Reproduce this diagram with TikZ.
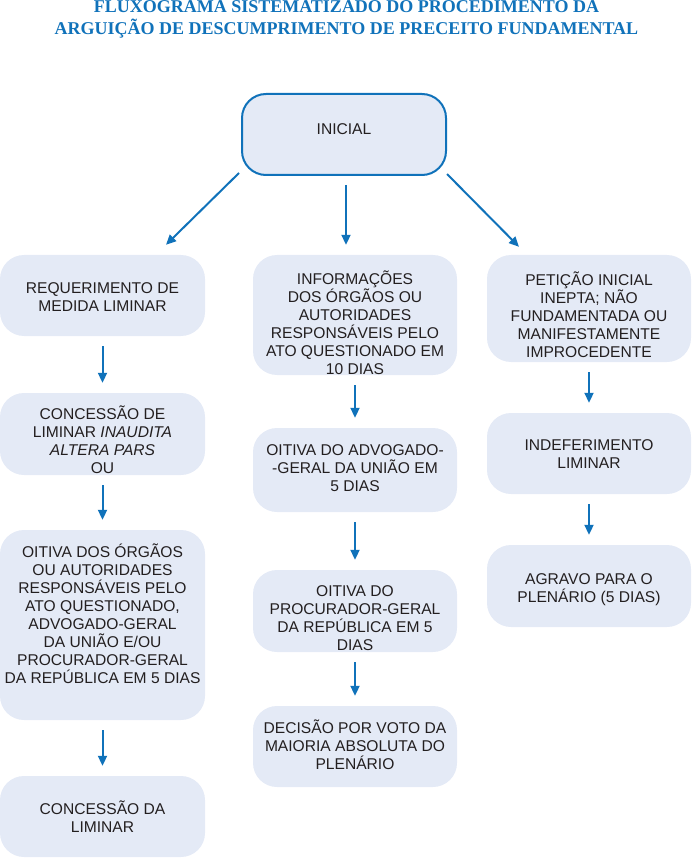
\documentclass[tikz,border=0pt]{standalone}
\usepackage{fontspec}
\setmainfont{Liberation Sans}
\newfontfamily\titlefont{Liberation Serif}
\usetikzlibrary{arrows.meta}

\definecolor{FlowBlue}{RGB}{16,114,186}
\definecolor{BoxFill}{RGB}{228,234,246}
\definecolor{BoxText}{RGB}{35,31,32}

\tikzset{
  stepbox/.style={rounded corners=24pt, fill=BoxFill, inner sep=0pt, minimum width=204pt},
  startbox/.style={stepbox, draw=FlowBlue, line width=2pt},
  steptext/.style={text=BoxText, align=center, inner sep=0pt,
    font=\fontsize{15.6}{18}\selectfont},
  arr/.style={-{Triangle[length=10pt,width=9pt]}, FlowBlue, line width=2pt},
  vlink/.style={arr, shorten <=10pt, shorten >=10pt}
}

\begin{document}
\begin{tikzpicture}[x=1pt,y=-1pt]
  \useasboundingbox (0,0) rectangle (693,858);

  % Title
  \node[font=\titlefont\bfseries\fontsize{18}{22}\selectfont, text=FlowBlue, align=center] (title) at (346.5,19)
    {FLUXOGRAMA SISTEMATIZADO DO PROCEDIMENTO DA\\ARGUIÇÃO DE DESCUMPRIMENTO DE PRECEITO FUNDAMENTAL};

  % Start
  \node[startbox, minimum height=81pt, label={[steptext, yshift=5pt]center:INICIAL}] (ini) at (344,134.5) {};

  % Left column
  \node[stepbox, minimum width=205pt, minimum height=81pt,
    label={[steptext, yshift=-2pt]center:{REQUERIMENTO DE\\MEDIDA LIMINAR}}] (req) at (102.5,295.5) {};
  \node[stepbox, minimum width=205pt, minimum height=82pt,
    label={[steptext, yshift=-6pt]center:{CONCESSÃO DE\\LIMINAR \textit{INAUDITA}\\\textit{ALTERA PARS}\\OU}}] (conc) at (102.5,434) {};
  \node[stepbox, minimum width=205pt, minimum height=190pt,
    label={[steptext, yshift=11pt]center:{OITIVA DOS ÓRGÃOS\\OU AUTORIDADES\\RESPONSÁVEIS PELO\\ATO QUESTIONADO,\\ADVOGADO-GERAL\\DA UNIÃO E/OU\\PROCURADOR-GERAL\\DA REPÚBLICA EM 5 DIAS}}] (oit) at (102.5,625) {};
  \node[stepbox, minimum width=205pt, minimum height=81pt,
    label={[steptext]center:{CONCESSÃO DA\\LIMINAR}}] (lim) at (102.5,816.5) {};

  % Middle column
  \node[stepbox, minimum height=120pt,
    label={[steptext, yshift=-8pt]center:{INFORMAÇÕES\\DOS ÓRGÃOS OU\\AUTORIDADES\\RESPONSÁVEIS PELO\\ATO QUESTIONADO EM\\10 DIAS}}] (inf) at (355,315) {};
  \node[stepbox, minimum height=84pt,
    label={[steptext, yshift=2pt]center:{OITIVA DO ADVOGADO-\\-GERAL DA UNIÃO EM\\5 DIAS}}] (agu) at (355,470) {};
  \node[stepbox, minimum height=82pt,
    label={[steptext, yshift=-7pt]center:{OITIVA DO\\PROCURADOR-GERAL\\DA REPÚBLICA EM 5\\DIAS}}] (pgr) at (355,611) {};
  \node[stepbox, minimum height=81pt,
    label={[steptext, yshift=2pt]center:{DECISÃO POR VOTO DA\\MAIORIA ABSOLUTA DO\\PLENÁRIO}}] (dec) at (355,746.5) {};

  % Right column
  \node[stepbox, minimum height=107pt,
    label={[steptext, yshift=-6pt]center:{PETIÇÃO INICIAL\\INEPTA; NÃO\\FUNDAMENTADA OU\\MANIFESTAMENTE\\IMPROCEDENTE}}] (pet) at (589,308.5) {};
  \node[stepbox, minimum height=81pt,
    label={[steptext, yshift=-1pt]center:{INDEFERIMENTO\\LIMINAR}}] (ind) at (589,453.5) {};
  \node[stepbox, minimum height=82pt,
    label={[steptext, yshift=-4pt]center:{AGRAVO PARA O\\PLENÁRIO (5 DIAS)}}] (agr) at (589,586) {};

  % Arrows from start
  \draw[arr] ([shift={(-2,-3)}]ini.south west) -- ([shift={(63.5,-10)}]req.north);
  \draw[arr] ([shift={(2,9)}]ini.south) -- ([shift={(-9,-10)}]inf.north);
  \draw[arr] ([shift={(0,-2)}]ini.south east) -- ([shift={(-70,-8)}]pet.north);

  % Arrows down the columns
  \draw[vlink] (req.south) -- (conc.north);
  \draw[vlink] (conc.south) -- (oit.north);
  \draw[vlink] (oit.south) -- (lim.north);
  \draw[vlink] (inf.south) -- (agu.north);
  \draw[vlink] (agu.south) -- (pgr.north);
  \draw[vlink] (pgr.south) -- (dec.north);
  \draw[vlink] (pet.south) -- (ind.north);
  \draw[vlink] (ind.south) -- (agr.north);
\end{tikzpicture}
\end{document}
